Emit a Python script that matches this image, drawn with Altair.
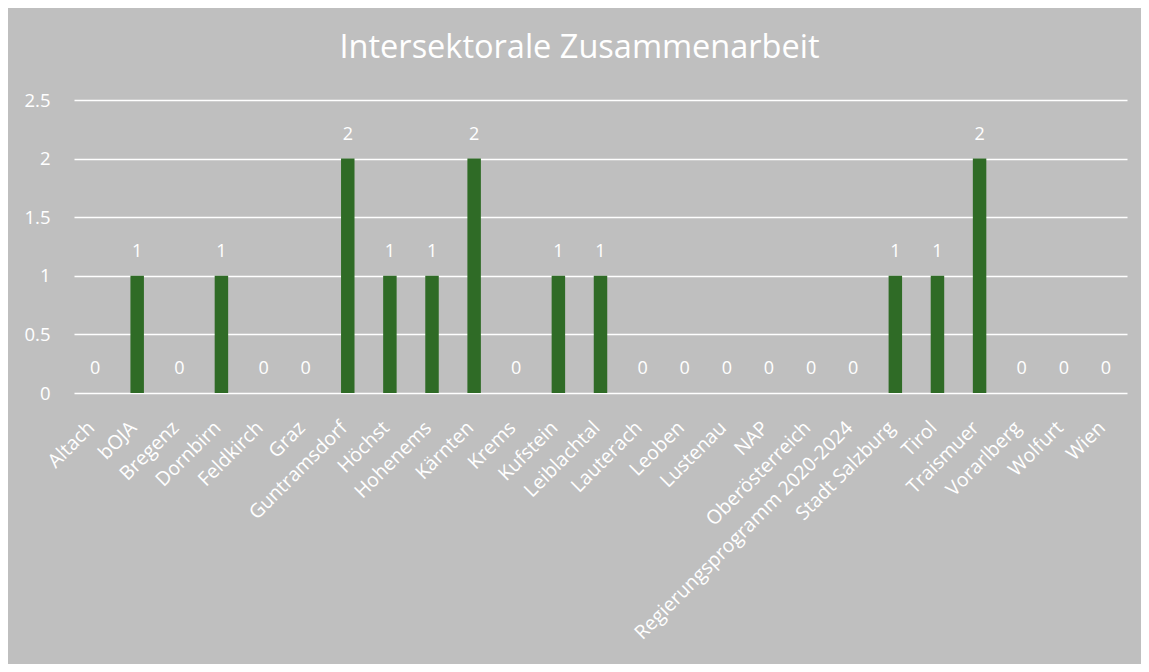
import altair as alt
import pandas as pd

categories = ["Altach", "bOJA", "Bregenz", "Dornbirn", "Feldkirch", "Graz", "Guntramsdorf",
              "Höchst", "Hohenems", "Kärnten", "Krems", "Kufstein", "Leiblachtal", "Lauterach",
              "Leoben", "Lustenau", "NAP", "Oberösterreich", "Regierungsprogramm 2020-2024",
              "Stadt Salzburg", "Tirol", "Traismuer", "Vorarlberg", "Wolfurt", "Wien"]
values = [0, 1, 0, 1, 0, 0, 2, 1, 1, 2, 0, 1, 1, 0, 0, 0, 0, 0, 0, 1, 1, 2, 0, 0, 0]

df = pd.DataFrame({"cat": categories, "val": values})
FONT = "Open Sans"
BG = "#BFBFBF"
GREEN = "#2F6B26"

x = alt.X("cat:N", sort=categories, title=None,
          scale=alt.Scale(paddingInner=0.68, paddingOuter=0.34),
          axis=alt.Axis(labelAngle=-45, labelAlign="right", labelBaseline="top",
                        labelColor="white", labelFont=FONT, labelFontSize=19.5,
                        labelLimit=0, ticks=False, domain=False, grid=False,
                        labelPadding=25, labelOffset=-10))
y = alt.Y("val:Q", title=None,
          scale=alt.Scale(domain=[0, 2.5], nice=False),
          axis=alt.Axis(values=[0, 0.5, 1, 1.5, 2, 2.5], labelExpr="datum.value",
                        labelColor="white", labelFont=FONT, labelFontSize=18.5,
                        ticks=False, domain=False, grid=True, gridColor="white",
                        gridWidth=1.5, labelPadding=24))

bars = alt.Chart(df).mark_bar(color=GREEN).encode(x=x, y=y)
labels = alt.Chart(df).mark_text(color="white", font=FONT, fontSize=18, dy=-24,
                                 baseline="middle").encode(
    x=alt.X("cat:N", sort=categories), y="val:Q", text="val:Q")

chart = (bars + labels).properties(
    width=1053, height=293,
    background=BG,
    padding={"left": 66, "top": 92, "right": 14, "bottom": 271},
    autosize=alt.AutoSizeParams(type="none"),
    title=alt.TitleParams("Intersektorale Zusammenarbeit", color="white", font=FONT,
                          fontSize=32.5, fontWeight="normal", anchor="middle", dx=-21, offset=27),
).configure_view(stroke=None)

chart.save("out.html", embed_options={"renderer": "svg", "actions": False})
